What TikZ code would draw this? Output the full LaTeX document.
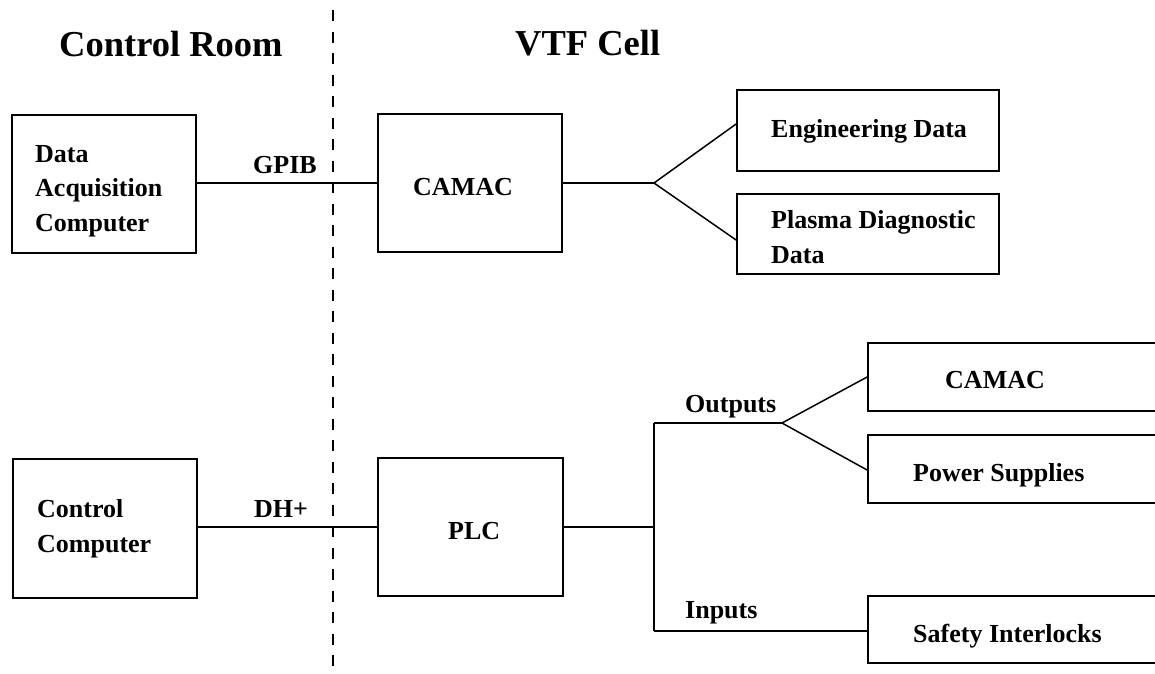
\documentclass[tikz,border=0pt]{standalone}
\usepackage{fontspec}
\setmainfont{Liberation Serif}
\begin{document}
\begin{tikzpicture}[x=1pt,y=-1pt,
  box/.style={draw,line width=1.8pt,inner sep=0pt},
  wire/.style={line width=1.5pt},
  txt/.style={inner sep=0pt,anchor=base west,align=left,font=\fontsize{26}{34.5}\selectfont\bfseries},
  ttl/.style={inner sep=0pt,anchor=base west,font=\fontsize{36.5}{40}\selectfont\bfseries}]
\useasboundingbox (0,0) rectangle (1155,673);
% boundary
\coordinate (dtop) at (333,10);
\coordinate (dbot) at (333,673);
\draw[line width=2pt,dash pattern=on 11pt off 10.5pt] (dtop) -- (dbot);
% titles
\node[ttl] (tcr) at (59,56) {Control Room};
\node[ttl] (tvtf) at (515,55) {VTF Cell};
% boxes
\node[box,minimum width=184pt,minimum height=138pt] (daq) at (104,184) {};
\node[box,minimum width=184pt,minimum height=138pt] (camac) at (470,183) {};
\node[box,minimum width=262pt,minimum height=81pt] (eng) at (868,130.5) {};
\node[box,minimum width=262pt,minimum height=80pt] (plasma) at (868,234) {};
\node[box,minimum width=184pt,minimum height=139pt] (ctl) at (105,528.5) {};
\node[box,minimum width=185pt,minimum height=138pt] (plc) at (470.5,527) {};
\node[box,minimum width=307pt,minimum height=68pt] (camac2) at (1021.5,377) {};
\node[box,minimum width=307pt,minimum height=68pt] (power) at (1021.5,469) {};
\node[box,minimum width=307pt,minimum height=67pt] (safety) at (1021.5,629.5) {};
% box texts (base anchor = last line)
\node[txt] (tdaq) at (35,231) {Data\\Acquisition\\Computer};
\node[txt] (tcamac) at (413,195) {CAMAC};
\node[txt] (teng) at (771,137) {Engineering Data};
\node[txt] (tplasma) at (771,263) {Plasma Diagnostic\\Data};
\node[txt] (tctl) at (37,552) {Control\\Computer};
\node[txt] (tplc) at (448,539) {PLC};
\node[txt] (tcamac2) at (945,388) {CAMAC};
\node[txt] (tpower) at (913,481) {Power Supplies};
\node[txt] (tsafety) at (913,642) {Safety Interlocks};
% connector labels
\node[txt] (lgpib) at (253,173) {GPIB};
\node[txt] (ldh) at (254,517) {DH+};
\node[txt] (lout) at (685,412) {Outputs};
\node[txt] (lin) at (685,618) {Inputs};
% connectors
\coordinate (b1) at (654,183);
\coordinate (vt) at (654,423);
\coordinate (vm) at (654,527);
\coordinate (vb) at (654,631);
\coordinate (b2) at (782,423);
\draw[wire] (daq.east |- camac.west) -- (camac.west);
\draw[wire] (ctl.east |- plc.west) -- (plc.west);
\draw[wire] (camac.east) -- (b1);
\draw[wire] (b1) -- ([yshift=6.5pt]eng.west);
\draw[wire] (b1) -- ([yshift=-6pt]plasma.west);
\draw[wire] (plc.east) -- (vm);
\draw[wire] (vt) -- (vb);
\draw[wire] (vt) -- (b2);
\draw[wire] (b2) -- (camac2.west);
\draw[wire] (b2) -- ([yshift=-1pt]power.west);
\draw[wire] (vb) -- (safety.west |- vb);
\end{tikzpicture}
\end{document}
